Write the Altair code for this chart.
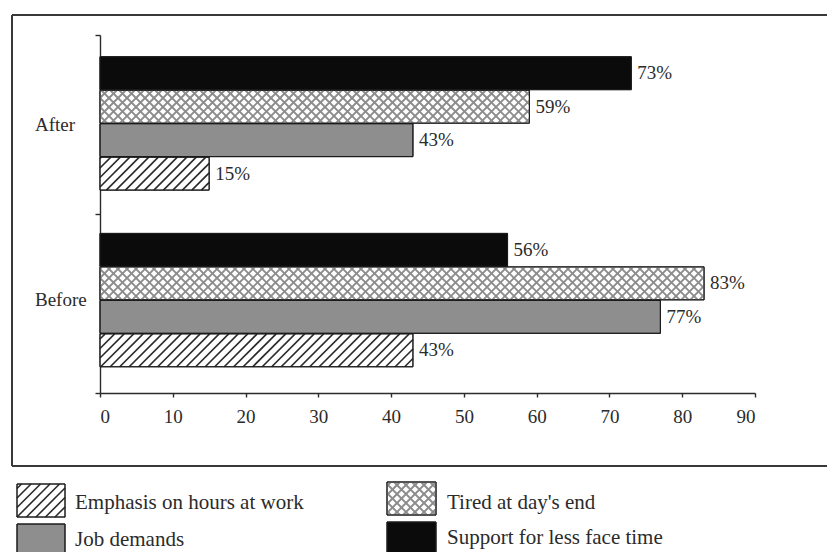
import altair as alt
import numpy as np
import pandas as pd

# ---- data -------------------------------------------------------------
periods = ["After", "Before"]
series = [
    "Support for less face time",
    "Tired at day's end",
    "Job demands",
    "Emphasis on hours at work",
]
after_pct = [73, 59, 43, 15]
before_pct = [56, 83, 77, 43]
x_ticks = [0, 10, 20, 30, 40, 50, 60, 70, 80, 90]

# ---- styling ----------------------------------------------------------
fills = {
    "Support for less face time": "#0b0b0b",
    "Tired at day's end": "#ffffff",
    "Job demands": "#8e8e8e",
    "Emphasis on hours at work": "#ffffff",
}
patterns = {
    "Support for less face time": None,
    "Tired at day's end": "cross",
    "Job demands": None,
    "Emphasis on hours at work": "diag",
}
FONT = "Liberation Serif"
INK = "#2b2b2b"

# plot area geometry (pixels) and scale domains
W, H = 655, 358
X_MAX = 90
Y_MAX = 2
GROUP_CENTER = [0.494, 1.481]  # vertical centre of each period's bar group
STEP = 0.187      # distance between neighbouring bars, in category units
THICK = 0.184     # bar thickness, in category units


def to_px_x(v):
    return v / X_MAX * W


def to_px_y(v):
    return v / Y_MAX * H


def from_px_x(p):
    return p / W * X_MAX


def from_px_y(p):
    return p / H * Y_MAX


def hatch(x0, x1, y0, y1, spacing, direction):
    """Diagonal line segments clipped to a pixel rectangle (y grows downward)."""
    segs = []
    if direction == "/":  # lines x + y = c
        c = np.ceil((x0 + y0) / spacing) * spacing
        while c < x1 + y1:
            ya, yb = max(y0, c - x1), min(y1, c - x0)
            if yb - ya > 0.3:
                segs.append((c - ya, ya, c - yb, yb))
            c += spacing
    else:  # lines x - y = c
        c = np.ceil((x0 - y1) / spacing) * spacing
        while c < x1 - y0:
            ya, yb = max(y0, x0 - c), min(y1, x1 - c)
            if yb - ya > 0.3:
                segs.append((c + ya, ya, c + yb, yb))
            c += spacing
    return segs


def pattern_segments(name, x0, x1, y0, y1):
    kind = patterns[name]
    out = []
    if kind == "diag":
        for s in hatch(x0, x1, y0, y1, 9.5, "/"):
            out.append(s + ("diag",))
    elif kind == "cross":
        for d in ("/", "\\"):
            for s in hatch(x0, x1, y0, y1, 9.0, d):
                out.append(s + ("cross",))
    return out


# ---- bars -------------------------------------------------------------
bar_rows, seg_rows = [], []
for gi, (period, vals) in enumerate(zip(periods, [after_pct, before_pct])):
    center = GROUP_CENTER[gi]
    for k, (name, v) in enumerate(zip(series, vals)):
        yc = center + (k - 1.5) * STEP
        y0, y1 = yc - THICK / 2, yc + THICK / 2
        bar_rows.append(dict(period=period, series=name, value=v,
                             x0=0, y0=y0, y1=y1, yc=yc, label=f"{v}%"))
        for (ax, ay, bx, by, kind) in pattern_segments(
                name, 0, to_px_x(v), to_px_y(y0), to_px_y(y1)):
            seg_rows.append(dict(x=from_px_x(ax), y=from_px_y(ay),
                                 x2=from_px_x(bx), y2=from_px_y(by), kind=kind))

bars = pd.DataFrame(bar_rows)

# ---- legend (laid out in pixels relative to the plot origin) ----------
legend_layout = [
    ("Emphasis on hours at work", -83, -35, 449, 482, -25, 468),
    ("Job demands", -83, -35, 489, 522, -25, 505),
    ("Tired at day's end", 287, 336, 447, 480, 347, 468),
    ("Support for less face time", 287, 336, 487, 522, 347, 503),
]
leg_rows, leg_text = [], []
for name, px0, px1, py0, py1, tx, ty in legend_layout:
    leg_rows.append(dict(series=name, x0=from_px_x(px0), x1=from_px_x(px1),
                         y0=from_px_y(py0), y1=from_px_y(py1)))
    leg_text.append(dict(series=name, x=from_px_x(tx), y=from_px_y(ty)))
    for (ax, ay, bx, by, kind) in pattern_segments(name, px0, px1, py0, py1):
        seg_rows.append(dict(x=from_px_x(ax), y=from_px_y(ay),
                             x2=from_px_x(bx), y2=from_px_y(by), kind=kind))

legend_rects = pd.DataFrame(leg_rows)
legend_labels = pd.DataFrame(leg_text)
segments = pd.DataFrame(seg_rows)
cats = pd.DataFrame(dict(period=periods, y=[0.5, 1.481], x=from_px_x(-65)))

# ---- scales -----------------------------------------------------------
xs = alt.Scale(domain=[0, X_MAX], nice=False, zero=True)
ys = alt.Scale(domain=[0, Y_MAX], nice=False, reverse=True)
fill_scale = alt.Scale(domain=series, range=[fills[s] for s in series])

x_axis = alt.Axis(values=x_ticks, format="d", grid=False, title=None,
                  labelFont=FONT, labelFontSize=19, labelColor=INK,
                  tickColor=INK, domainColor=INK, domainWidth=1.4,
                  tickWidth=1.4, tickSize=4, labelPadding=10)
y_axis = alt.Axis(values=[0, 1, 2], labels=False, grid=False, title=None,
                  tickColor=INK, domainColor=INK, domainWidth=1.4,
                  tickWidth=1.4, tickSize=5)

bar_layer = alt.Chart(bars).mark_rect(stroke="#1a1a1a", strokeWidth=1).encode(
    x=alt.X("x0:Q", scale=xs, axis=x_axis),
    x2="value:Q",
    y=alt.Y("y0:Q", scale=ys, axis=y_axis),
    y2="y1:Q",
    fill=alt.Fill("series:N", scale=fill_scale, legend=None),
)

legend_box = alt.Chart(legend_rects).mark_rect(stroke="#1a1a1a",
                                               strokeWidth=1).encode(
    x=alt.X("x0:Q", scale=xs), x2="x1:Q",
    y=alt.Y("y0:Q", scale=ys), y2="y1:Q",
    fill=alt.Fill("series:N", scale=fill_scale, legend=None),
)

seg_layer = alt.Chart(segments).mark_rule(strokeCap="butt").encode(
    x=alt.X("x:Q", scale=xs),
    x2="x2:Q",
    y=alt.Y("y:Q", scale=ys),
    y2="y2:Q",
    stroke=alt.Stroke("kind:N", scale=alt.Scale(domain=["diag", "cross"],
                                                range=["#2a2a2a", "#8c8c8c"]),
                      legend=None),
    strokeWidth=alt.StrokeWidth("kind:N", scale=alt.Scale(domain=["diag", "cross"],
                                                          range=[1.6, 1.9]),
                                legend=None),
)

outline_layer = alt.Chart(bars).mark_rect(fillOpacity=0, stroke="#1a1a1a",
                                          strokeWidth=1).encode(
    x=alt.X("x0:Q", scale=xs), x2="value:Q",
    y=alt.Y("y0:Q", scale=ys), y2="y1:Q",
)
legend_outline = alt.Chart(legend_rects).mark_rect(fillOpacity=0, stroke="#1a1a1a",
                                                   strokeWidth=1).encode(
    x=alt.X("x0:Q", scale=xs), x2="x1:Q",
    y=alt.Y("y0:Q", scale=ys), y2="y1:Q",
)

value_labels = alt.Chart(bars).mark_text(
    align="left", baseline="middle", dx=6, font=FONT, fontSize=19, color=INK
).encode(
    x=alt.X("value:Q", scale=xs),
    y=alt.Y("yc:Q", scale=ys),
    text="label:N",
)

cat_labels = alt.Chart(cats).mark_text(
    align="left", baseline="middle", font=FONT, fontSize=19, color=INK
).encode(
    x=alt.X("x:Q", scale=xs),
    y=alt.Y("y:Q", scale=ys),
    text="period:N",
)

legend_text = alt.Chart(legend_labels).mark_text(
    align="left", baseline="middle", font=FONT, fontSize=21, color=INK
).encode(
    x=alt.X("x:Q", scale=xs),
    y=alt.Y("y:Q", scale=ys),
    text="series:N",
)

# frame around the plotting region
frame_top = alt.Chart(bars).mark_rule(color="#3a3a3a", strokeWidth=1.5).encode(
    x=alt.value(-88), x2=alt.value(730), y=alt.value(-20))
frame_left = alt.Chart(bars).mark_rule(color="#3a3a3a", strokeWidth=1.5).encode(
    x=alt.value(-88), y=alt.value(-20), y2=alt.value(431))
frame_bottom = alt.Chart(bars).mark_rule(color="#3a3a3a", strokeWidth=1.5).encode(
    x=alt.value(-88), x2=alt.value(730), y=alt.value(431))

chart = alt.layer(
    bar_layer, legend_box, seg_layer, outline_layer, legend_outline,
    value_labels, cat_labels, legend_text,
    frame_top, frame_left, frame_bottom,
).properties(
    width=W, height=H,
    autosize=alt.AutoSizeParams(type="none"),
    padding={"left": 100, "top": 35, "right": 72, "bottom": 159},
    background="white",
).configure_view(stroke=None)

chart.save("out.html", embed_options={"renderer": "svg", "actions": False})
